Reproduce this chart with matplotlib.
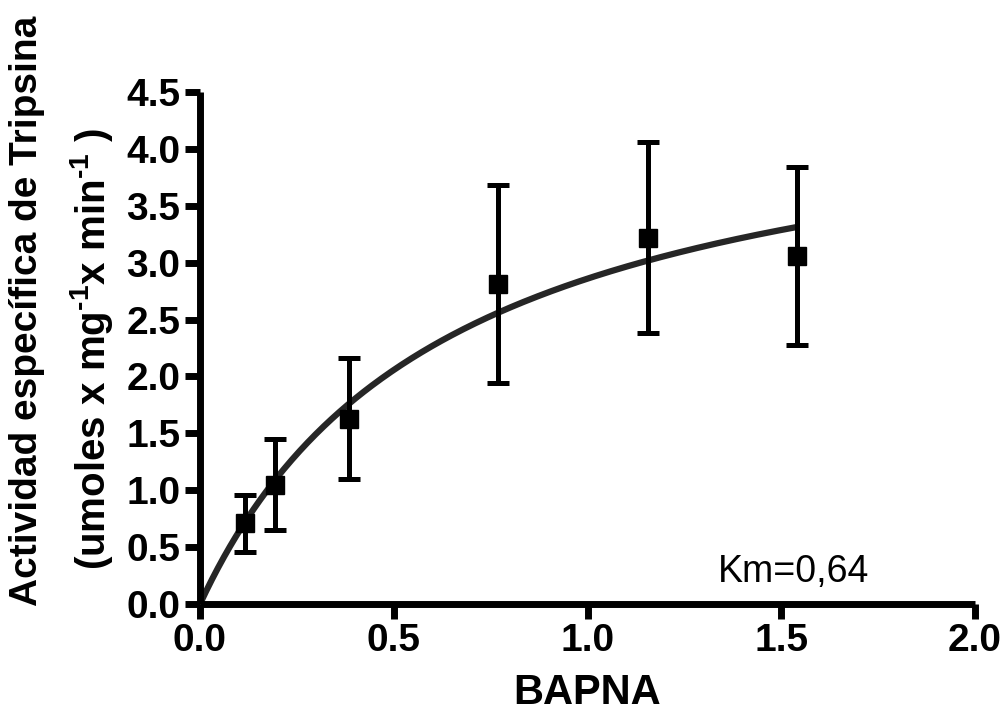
import numpy as np
import matplotlib.pyplot as plt

plt.rcParams['font.family'] = ['Liberation Sans', 'DejaVu Sans']
plt.rcParams['mathtext.fontset'] = 'custom'
plt.rcParams['mathtext.rm'] = 'Liberation Sans'
plt.rcParams['mathtext.bf'] = 'Liberation Sans:bold'

# BAPNA concentration and measured specific activity (mean +/- error)
bapna = [0.1155, 0.1925, 0.385, 0.77, 1.155, 1.54]
actividad = [0.71, 1.05, 1.63, 2.81, 3.22, 3.06]
error = [0.25, 0.40, 0.53, 0.87, 0.84, 0.78]

# Michaelis-Menten fit parameters
vmax = 4.69
km = 0.64

x_ticks = [0.0, 0.5, 1.0, 1.5, 2.0]
y_ticks = [0.0, 0.5, 1.0, 1.5, 2.0, 2.5, 3.0, 3.5, 4.0, 4.5]

fig = plt.figure(figsize=(10.06, 7.22), dpi=100)
ax = fig.add_axes([0.1988, 0.1634, 0.7704, 0.7092])

# fitted curve
xfit = np.linspace(0, max(bapna), 300)
yfit = vmax * xfit / (km + xfit)
ax.plot(xfit, yfit, color='#262626', lw=4.5, solid_capstyle='butt', zorder=2)

ax.errorbar(bapna, actividad, yerr=error, fmt='s', color='black',
            markersize=13, elinewidth=3.6, capsize=8, capthick=3.6,
            zorder=3, clip_on=False)

ax.set_xlim(0, 2.0)
ax.set_ylim(0, 4.5)
ax.set_xticks(x_ticks)
ax.set_yticks(y_ticks)
ax.set_xticklabels([f'{v:.1f}' for v in x_ticks])
ax.set_yticklabels([f'{v:.1f}' for v in y_ticks])

for s in ['top', 'right']:
    ax.spines[s].set_visible(False)
for s in ['left', 'bottom']:
    ax.spines[s].set_linewidth(5)
    ax.spines[s].set_capstyle('butt')

ax.tick_params(width=5, length=11, labelsize=28, pad=3)
for lab in ax.get_xticklabels() + ax.get_yticklabels():
    lab.set_fontweight('bold')

ax.set_xlabel('BAPNA', fontsize=30, fontweight='bold', labelpad=10)

fig.text(0.027, 0.569, 'Actividad específica de Tripsina', rotation=90,
         fontsize=28, fontweight='bold', ha='center', va='center')
fig.text(0.091, 0.517, r'(umoles x mg$^{\mathbf{‐1}}$x min$^{\mathbf{‐1}}$ )',
         rotation=90, fontsize=29, fontweight='bold', ha='center', va='center')

ax.text(1.533, 0.28, 'Km=0,64', fontsize=27, ha='center', va='center')

fig.savefig('out.png', dpi=100)
